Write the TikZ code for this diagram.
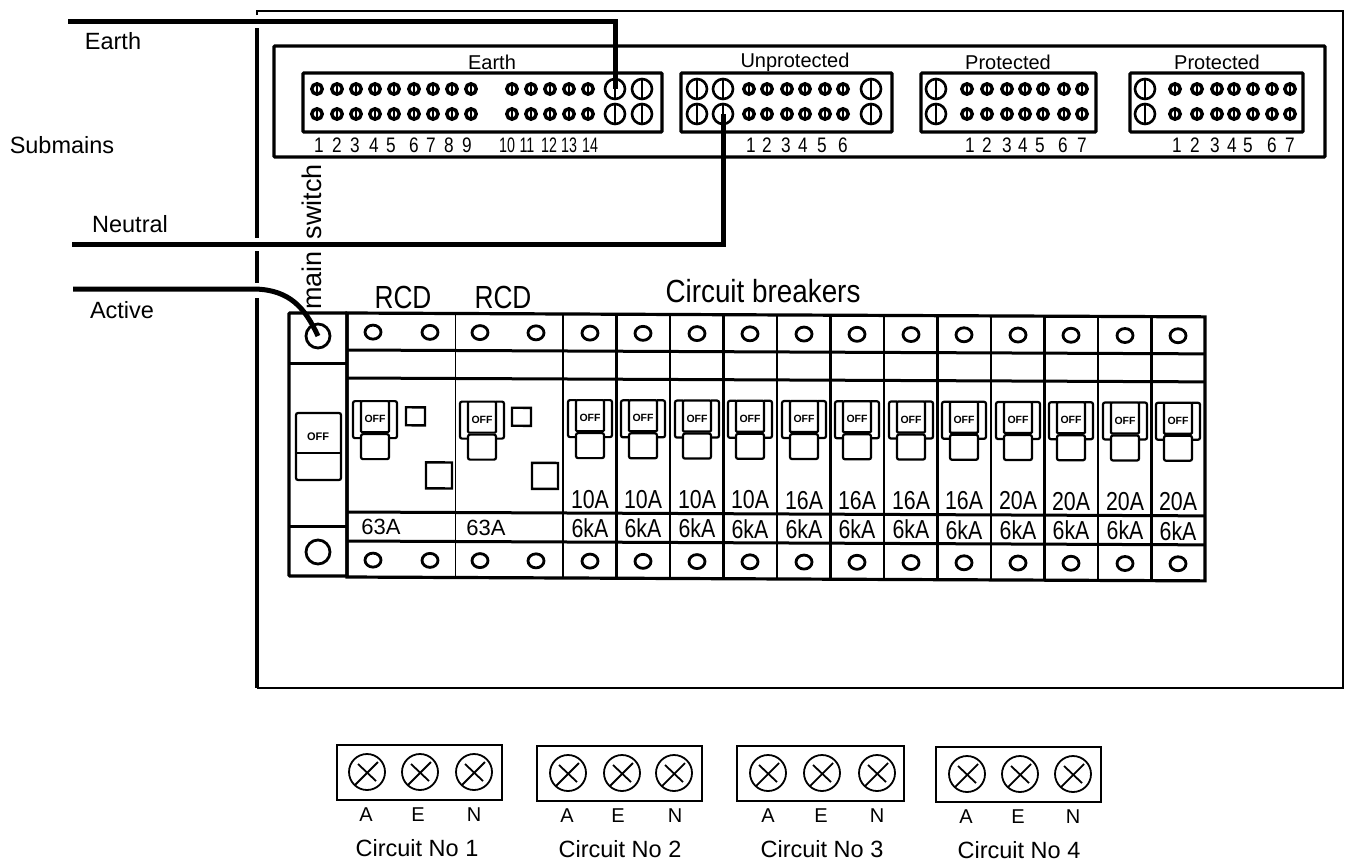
\documentclass[tikz,border=0pt]{standalone}
\usepackage{fontspec}
\setmainfont{Liberation Sans}
\usetikzlibrary{calc}
\usetikzlibrary{positioning}
\usetikzlibrary{shapes.geometric}
\newcommand{\squeeze}[1]{\scalebox{.82}[1]{#1}}

\begin{document}
\begin{tikzpicture}
  [
    x=1pt, y=-1pt,
    wire/.style = {line width=5pt},
    frame/.style = {line width=3.2pt, rounded corners=1pt},
    rowline/.style = {line width=3pt},
    colline/.style = {line width=2.5pt},
    thinline/.style = {line width=1pt},
    smallscrew/.style = {draw, circle, line width=3.4pt, minimum size=10.5pt, inner sep=0pt,
      path picture={\draw[line width=2.4pt] (path picture bounding box.north) -- (path picture bounding box.south);}},
    bigscrew/.style = {draw, circle, line width=2.6pt, minimum size=20pt, inner sep=0pt,
      path picture={\draw[line width=2.2pt] (path picture bounding box.north) -- (path picture bounding box.south);}},
    lug/.style = {draw, ellipse, line width=2.8pt, minimum width=16pt, minimum height=14pt, inner sep=0pt},
    bigstud/.style = {draw, circle, line width=2.8pt, minimum size=24pt, inner sep=0pt},
    termscrew/.style = {draw, circle, line width=1.8pt, minimum size=36pt, inner sep=0pt,
      path picture={
        \draw[line width=1.8pt] ([shift={(-13,14)}]path picture bounding box.center) -- ([shift={(11,-10)}]path picture bounding box.center);
        \draw[line width=1.8pt] ([shift={(-9,-8)}]path picture bounding box.center) -- ([shift={(9,9)}]path picture bounding box.center);}},
    side/.style = {font=\fontsize{23.5}{26}\selectfont},
    head/.style = {font=\fontsize{20}{22}\selectfont},
    digit/.style = {font=\fontsize{21}{23}\selectfont, inner sep=0pt},
    rating/.style = {font=\fontsize{26}{28}\selectfont, inner sep=0pt},
    big/.style = {font=\fontsize{32}{34}\selectfont, inner sep=0pt},
    offtext/.style = {font=\fontsize{10.5}{12}\bfseries\selectfont, inner sep=0pt},
    pics/toggle/.style = {code={
      \draw[line width=2.2pt, rounded corners=2pt] (-14,0) -| (-22,37) -- (-14,37);
      \draw[line width=2.2pt, rounded corners=2pt] (14,0) -| (22,37) -- (14,37);
      \draw[line width=2.2pt, rounded corners=1pt] (-14,0) rectangle (14,31);
      \draw[line width=2.2pt, rounded corners=2pt] (-14,33) rectangle (14,58);
      \node[offtext] (-off) at (0,18) {OFF};
    }},
  ]

  \useasboundingbox (0,0) rectangle (1348,862);

  % outer enclosure, broken where the wires pass
  \draw[line width=2.5pt] (257,15) -- (257,11) -- (1343,11) -- (1343,688) -- (257,688);
  \draw[line width=3.5pt] (257,28) -- (257,238);
  \draw[line width=3.5pt] (257,251) -- (257,283);
  \draw[line width=3.5pt] (257,298) -- (257,688);

  % side labels
  \node[side] (earthlabel) at (113,41) {Earth};
  \node[side] (submainslabel) at (62,145) {Submains};
  \node[side] (neutrallabel) at (130,224) {Neutral};
  \node[side] (activelabel) at (122,310) {Active};

  % the link panel
  \draw[frame] (274,46) rectangle (1325,157);
  \draw[frame] (303,73) rectangle (662,132);
  \draw[frame] (681,73) rectangle (892,132);
  \draw[frame] (921,73) rectangle (1096,132);
  \draw[frame] (1130,73) rectangle (1303,132);

  \node[head] (earthhead) at (492,62) {Earth};
  \node[head] (unprothead) at (795,62) {Unprotected};
  \node[head] (prothead) at (1008,62) {Protected};
  \node[head] (prothead2) at (1217,62) {Protected};

  \foreach \row/\yy in {a/89,b/114} {
    \foreach \x [count=\i] in {317,337,356,375,394,414,433,452,471,512,531,550,569,588}
      \node[smallscrew] (e\row\i) at (\x,\yy) {};
    \node[bigscrew] (ebig\row1) at (615,\yy) {};
    \node[bigscrew] (ebig\row2) at (642,\yy) {};
    \node[bigscrew] (ubig\row1) at (697,\yy) {};
    \node[bigscrew] (ubig\row2) at (723,\yy) {};
    \node[bigscrew] (ubig\row3) at (871,\yy) {};
    \foreach \x [count=\i] in {749,767,787,805,825,843}
      \node[smallscrew] (u\row\i) at (\x,\yy) {};
    \node[bigscrew] (pbig\row) at (936,\yy) {};
    \foreach \x [count=\i] in {967,987,1007,1025,1043,1064,1082}
      \node[smallscrew] (p\row\i) at (\x,\yy) {};
    \node[bigscrew] (qbig\row) at (1145,\yy) {};
    \foreach \x [count=\i] in {1175,1197,1217,1234,1253,1272,1290}
      \node[smallscrew] (q\row\i) at (\x,\yy) {};
  }

  % link numbers
  \foreach \x/\n in {319/1,337/2,355/3,374/4,391/5,414/6,431/7,449/8,467/9,
                     751/1,767/2,786/3,803/4,822/5,843/6,
                     970/1,987/2,1007/3,1023/4,1040/5,1063/6,1082/7,
                     1177/1,1195/2,1215/3,1232/4,1248/5,1272/6,1290/7}
    \node[digit] (num\x) at (\x,145) {\squeeze{\n}};
  \foreach \x/\n in {507/10,527/11,549/12,569/13,590/14}
    \node[digit] (num\x) at (\x,145) {\scalebox{.68}[1]{\n}};

  \node[big, rotate=90, font=\fontsize{27}{29}\selectfont] (mainswitch) at (312,237) {main\hspace{12pt}switch};

  % breaker row headings
  \node[big] (rcdone) at (403,297) {\squeeze{RCD}};
  \node[big] (rcdtwo) at (503,297) {\squeeze{RCD}};
  \node[big] (cbhead) at (763,291) {\scalebox{.87}[1]{Circuit breakers}};

  % main switch column
  \draw[frame] (289,313) rectangle (347,576);
  \draw[rowline] (289,363) -- (347,363);
  \draw[rowline] (289,526) -- (347,526);
  \node[bigstud] (mainin) at (318,336) {};
  \node[bigstud] (mainout) at (318,552) {};
  \draw[line width=2.2pt, rounded corners=2pt] (296,413) rectangle (341,480);
  \draw[line width=2.2pt] (296,453) -- (341,453);
  \node[offtext, font=\fontsize{11}{12}\bfseries\selectfont] (mainoff) at (318,437) {OFF};

  % RCDs and breakers, the whole row leans a little
  \begin{scope}[cm={1,-0.0045,0,1,(0pt,1.56pt)}]
    \draw[line width=3.2pt] (347,313) rectangle (1205,577);
    \foreach \yy in {350,378,512,541}
      \draw[rowline] (347,\yy) -- (1205,\yy);
    \draw[thinline] (455,313) -- (455,577);
    \foreach \x in {563,616.5,670,723.5,777,830.5,884,937.5,991,1044.5,1098,1151.5}
      \draw[colline] (\x,313) -- (\x,577);

    \foreach \x [count=\i] in {373,430,480,536} {
      \node[lug] (rcdin\i) at (\x,332) {};
      \node[lug] (rcdout\i) at (\x,560) {};
    }
    \pic (rcdtoggle1) at (375,401) {toggle};
    \pic (rcdtoggle2) at (482,401) {toggle};
    \draw[line width=2.4pt] (406,407) rectangle (425,425);
    \draw[line width=2.4pt] (426,462) rectangle (452,488);
    \draw[line width=2.4pt] (512,407) rectangle (531,425);
    \draw[line width=2.4pt] (532,462) rectangle (558,488);
    \node[rating, font=\fontsize{22}{24}\selectfont] (rcdamp1) at (381,527) {63A};
    \node[rating, font=\fontsize{22}{24}\selectfont] (rcdamp2) at (486,527) {63A};

    \foreach \x/\amp [count=\i] in {590/10A,643/10A,697/10A,750/10A,804/16A,857/16A,911/16A,964/16A,1018/20A,1071/20A,1125/20A,1178/20A} {
      \node[lug] (cbin\i) at (\x,332) {};
      \node[lug] (cbout\i) at (\x,560) {};
      \pic (cbtoggle\i) at (\x,399) {toggle};
      \node[rating] (cbamp\i) at (\x,498) {\squeeze{\amp}};
      \node[rating] (cbka\i) at (\x,527) {\squeeze{6kA}};
    }
  \end{scope}

  % submains
  \coordinate (earthstart) at (68,21);
  \coordinate (neutralstart) at (72,244);
  \coordinate (activestart) at (73,289);
  \draw[wire] (earthstart) -| (ebiga1.center);
  \draw[wire] (neutralstart) -| (ubigb2.center);
  \draw[wire] (activestart) -- (255,289) .. controls (290,290) and (305,308) .. (mainin.center);

  % circuit terminals
  \foreach \bl/\br/\bt/\ca/\ce/\cn/\lya/\lye/\lyn/\capx/\no in {
      337/502/745/367/420/474/366/418/474/417/1,
      537/702/746/568/622/674/567/618/675/620/2,
      737/904/746/768/822/877/768/821/877/822/3,
      936/1101/747/967/1020/1073/966/1018/1073/1019/4} {
    \draw[line width=2.5pt] (\bl,\bt) rectangle (\br,\bt+55);
    \node[termscrew] (term\no a) at (\ca,\bt+27) {};
    \node[termscrew] (term\no e) at (\ce,\bt+27) {};
    \node[termscrew] (term\no n) at (\cn,\bt+27) {};
    \node[side, inner sep=0pt, font=\fontsize{20}{22}\selectfont] (lab\no a) at (\lya,\bt+70) {A};
    \node[side, inner sep=0pt, font=\fontsize{20}{22}\selectfont] (lab\no e) at (\lye,\bt+70) {E};
    \node[side, inner sep=0pt, font=\fontsize{20}{22}\selectfont] (lab\no n) at (\lyn,\bt+70) {N};
    \node[side, inner sep=0pt] (cap\no) at (\capx,\bt+103) {Circuit No \no};
  }

\end{tikzpicture}
\end{document}
